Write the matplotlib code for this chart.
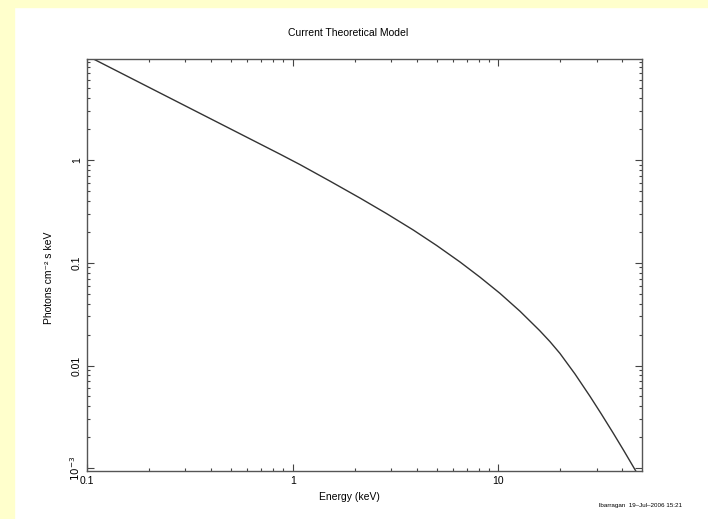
import matplotlib
matplotlib.use('Agg')
import matplotlib.pyplot as plt
from matplotlib.patches import Rectangle
from matplotlib.ticker import FixedLocator, FixedFormatter, LogLocator, NullFormatter

plt.rcParams['font.family'] = ['Liberation Sans', 'DejaVu Sans']

#***** Model curve *****
energy = [0.1, 0.107, 0.3, 0.865, 1.083, 1.514, 2.12, 2.858, 3.85, 5.0, 6.50, 8.13,
          10.16, 12.72, 15.85, 17.78, 19.9, 23.55, 27.9, 31.6, 36.1, 40.7, 46.1, 50]
flux = [10.28, 9.59, 3.35, 1.138, 0.900, 0.622, 0.4256, 0.300, 0.208, 0.1472, 0.1016, 0.0723,
        0.0504, 0.03375, 0.02189, 0.01712, 0.01312, 0.00828, 0.00500, 0.00339, 0.00221, 0.001486,
        0.000973, 0.000736]

x_ticks = [0.1, 1, 10]
x_labels = ['0.1', '1', '10']
y_ticks = [0.001, 0.01, 0.1, 1]
y_labels = [r'$10^{-3}$', '0.01', '0.1', '1']
#********************************************

W, H = 708, 519
fig = plt.figure(figsize=(W / 100, H / 100), dpi=100, facecolor='white')

# yellow page border (left and top)
yellow = '#ffffcc'
fig.patches.append(Rectangle((0, 0), 14 / W, 1, transform=fig.transFigure, color=yellow, zorder=-1))
fig.patches.append(Rectangle((0, 1 - 7 / H), 1, 7 / H, transform=fig.transFigure, color=yellow, zorder=-1))

left, right, top, bottom = 87.3, 642, 59, 470.7
ax = fig.add_axes([left / W, (H - bottom) / H, (right - left) / W, (bottom - top) / H])

ax.plot(energy, flux, color='#333333', lw=1.0)
ax.set_xscale('log')
ax.set_yscale('log')
ax.set_xlim(0.1, 49.9)
ax.set_ylim(0.000948, 9.58)

ax.xaxis.set_major_locator(FixedLocator(x_ticks))
ax.xaxis.set_major_formatter(FixedFormatter(x_labels))
ax.yaxis.set_major_locator(FixedLocator(y_ticks))
ax.yaxis.set_major_formatter(FixedFormatter(y_labels))
ax.xaxis.set_minor_locator(LogLocator(base=10, subs=range(2, 10)))
ax.yaxis.set_minor_locator(LogLocator(base=10, subs=range(2, 10)))
ax.xaxis.set_minor_formatter(NullFormatter())
ax.yaxis.set_minor_formatter(NullFormatter())

ax.tick_params(which='both', direction='in', top=True, right=True, color='#444444', width=0.8)
ax.tick_params(which='major', length=5, labelsize=7.5, pad=4)
ax.tick_params(which='minor', length=2.5)
for lab in ax.get_yticklabels():
    lab.set_rotation(90)
    lab.set_va('center')

for sp in ax.spines.values():
    sp.set_color('#555555')
    sp.set_linewidth(1.0)

fig.text(348 / W, 1 - 33 / H, 'Current Theoretical Model', ha='center', va='center', fontsize=7.5)
fig.text(349 / W, 1 - 497 / H, 'Energy (keV)', ha='center', va='center', fontsize=7.5)
fig.text(49 / W, 1 - 278 / H, 'Photons cm⁻² s keV', ha='center', va='center', rotation=90, fontsize=7.5)
fig.text(682 / W, 1 - 506 / H, 'lbarragan  19\u2013Jul\u20132006 15:21', ha='right', va='center', fontsize=4.5)

fig.savefig('out.png', dpi=100, facecolor='white')
